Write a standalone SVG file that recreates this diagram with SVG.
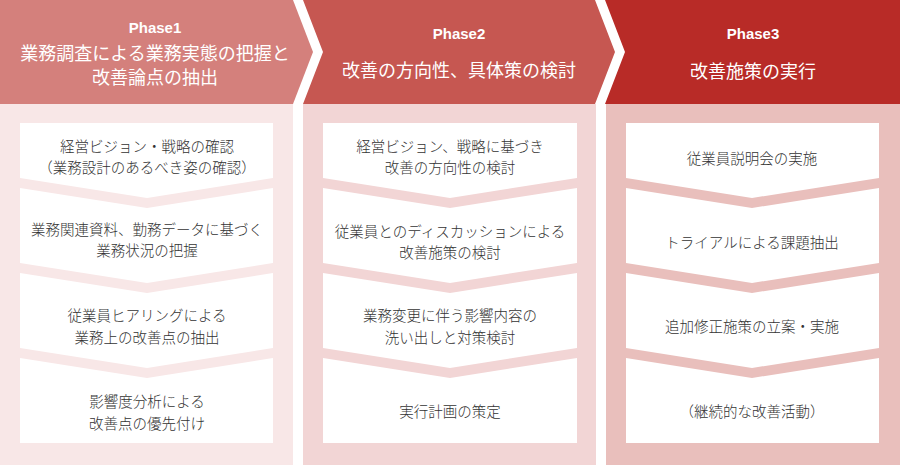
<svg xmlns="http://www.w3.org/2000/svg" width="900" height="465" viewBox="0 0 900 465">
<style>
.ph{font-family:"Liberation Sans",Arial,sans-serif;font-weight:bold;font-size:15px;fill:#fff;text-anchor:middle;dominant-baseline:central}
.ti{font-family:"Noto Sans CJK JP","Noto Sans",sans-serif;font-size:18px;fill:#fff;text-anchor:middle;dominant-baseline:central}
.bx{fill:#fff}
.tx{font-family:"Noto Sans CJK JP","Noto Sans",sans-serif;font-weight:300;font-size:14.5px;fill:#333;text-anchor:middle;dominant-baseline:central}
</style>
<rect width="900" height="465" fill="#fff"/>
<g id="phase1">
<polygon points="0,0 293,0 313,52 293,104 0,104" fill="#d4807c"/>
<rect x="0" y="104" width="293" height="361" fill="#f8e7e7"/>
<text class="ph" x="155" y="27">Phase1</text>
<text class="ti" x="155" y="52">業務調査による業務実態の把握と</text>
<text class="ti" x="155" y="76">改善論点の抽出</text>
</g>
<g id="phase2">
<polygon points="303,0 595,0 615,52 595,104 303,104 323,52" fill="#c65751"/>
<rect x="303" y="104" width="293" height="361" fill="#f2d5d5"/>
<text class="ph" x="459" y="33">Phase2</text>
<text class="ti" x="459" y="69">改善の方向性、具体策の検討</text>
</g>
<g id="phase3">
<polygon points="605,0 900,0 900,104 605,104 625,52" fill="#b82b27"/>
<rect x="606" y="104" width="294" height="361" fill="#e9bfbc"/>
<text class="ph" x="753" y="33">Phase3</text>
<text class="ti" x="753" y="70">改善施策の実行</text>
</g>
<g id="p1-step1"><path class="bx" d="M20,123H273V178L147,198L20,178Z"/><text class="tx" x="147" y="145">経営ビジョン・戦略の確認</text><text class="tx" x="147" y="166">（業務設計のあるべき姿の確認）</text></g>
<g id="p1-step2"><path class="bx" d="M20,188L147,208L273,188V263L147,283L20,263Z"/><text class="tx" x="147" y="228">業務関連資料、勤務データに基づく</text><text class="tx" x="147" y="249">業務状況の把握</text></g>
<g id="p1-step3"><path class="bx" d="M20,273L147,293L273,273V348L147,368L20,348Z"/><text class="tx" x="147" y="314">従業員ヒアリングによる</text><text class="tx" x="147" y="336">業務上の改善点の抽出</text></g>
<g id="p1-step4"><path class="bx" d="M20,358L147,378L273,358V443H20Z"/><text class="tx" x="147" y="400">影響度分析による</text><text class="tx" x="147" y="422">改善点の優先付け</text></g>
<g id="p2-step1"><path class="bx" d="M323,123H577V178L450,198L323,178Z"/><text class="tx" x="450" y="145">経営ビジョン、戦略に基づき</text><text class="tx" x="450" y="166">改善の方向性の検討</text></g>
<g id="p2-step2"><path class="bx" d="M323,188L450,208L577,188V263L450,283L323,263Z"/><text class="tx" x="450" y="230">従業員とのディスカッションによる</text><text class="tx" x="450" y="251">改善施策の検討</text></g>
<g id="p2-step3"><path class="bx" d="M323,273L450,293L577,273V348L450,368L323,348Z"/><text class="tx" x="450" y="314">業務変更に伴う影響内容の</text><text class="tx" x="450" y="336">洗い出しと対策検討</text></g>
<g id="p2-step4"><path class="bx" d="M323,358L450,378L577,358V443H323Z"/><text class="tx" x="450" y="410">実行計画の策定</text></g>
<g id="p3-step1"><path class="bx" d="M626,123H879V178L752,198L626,178Z"/><text class="tx" x="752" y="157">従業員説明会の実施</text></g>
<g id="p3-step2"><path class="bx" d="M626,188L752,208L879,188V263L752,283L626,263Z"/><text class="tx" x="752" y="241">トライアルによる課題抽出</text></g>
<g id="p3-step3"><path class="bx" d="M626,273L752,293L879,273V348L752,368L626,348Z"/><text class="tx" x="752" y="325">追加修正施策の立案・実施</text></g>
<g id="p3-step4"><path class="bx" d="M626,358L752,378L879,358V443H626Z"/><text class="tx" x="752" y="410">（継続的な改善活動）</text></g>
<g id="connectors"/>
</svg>
